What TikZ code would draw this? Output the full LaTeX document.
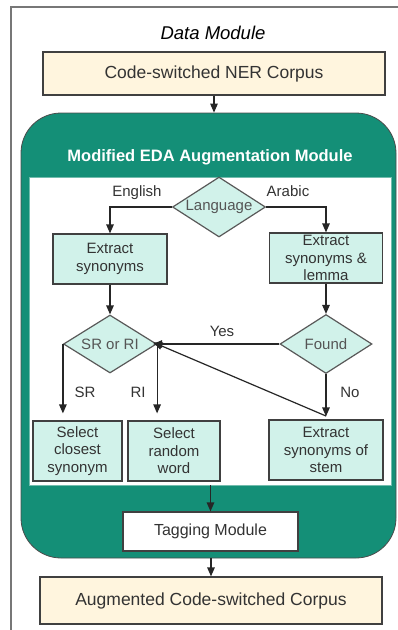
\documentclass[tikz,border=0pt]{standalone}
\usepackage{fontspec}
\setmainfont{Liberation Sans}
\usetikzlibrary{shapes.geometric,arrows.meta}
\definecolor{teal}{HTML}{148F77}
\definecolor{mint}{HTML}{D1F2EA}
\definecolor{cream}{HTML}{FFF5DE}
\definecolor{framegray}{HTML}{777777}
\definecolor{txt}{HTML}{333333}
\definecolor{dtxt}{HTML}{555555}
\tikzset{
  box/.style={draw=black!75, line width=1.2pt, rectangle, inner sep=0pt, align=center, text=txt,
    font=\fontsize{15}{17.5}\selectfont},
  mintbox/.style={box, fill=mint},
  creambox/.style={box, fill=cream, font=\fontsize{17.5}{20}\selectfont},
  decision/.style={diamond, draw=black!65, line width=1.2pt, fill=mint, inner sep=0pt},
  dtext/.style={text=dtxt, font=\fontsize{15}{17.5}\selectfont},
  arr/.style={-{Triangle[length=9pt,width=7.5pt]}, line width=1.2pt, black!85},
  lbl/.style={text=txt, font=\fontsize{15}{17.5}\selectfont},
}
\begin{document}
\begin{tikzpicture}[x=1pt,y=-1pt]
\useasboundingbox (0,0) rectangle (398,630);
% outer frame (cropped)
\draw[framegray, line width=1.3pt] (11,631) -- (11,7) -- (399,7);
\node (dm) at (213,33) {\fontsize{18.5}{20}\selectfont\itshape Data Module};
\node[creambox, minimum width=342pt, minimum height=43pt] (ner) at (214,73.5) {Code-switched NER Corpus};
% green module
\node[draw=black!70, line width=0.8pt, fill=teal, rounded corners=40pt, minimum width=375pt, minimum height=445pt] (green) at (208.5,335.5) {};
\node[text=white, font=\fontsize{16.5}{18}\selectfont\bfseries] (title) at (210,157) {Modified EDA Augmentation Module};
\node[fill=white, draw=teal!60!white, line width=0.8pt, minimum width=362pt, minimum height=308pt, inner sep=0pt] (inner) at (210,331) {};
% flowchart
\node[decision, minimum width=93pt, minimum height=60pt, label={[dtext]center:Language}] (lang) at (219,207) {};
\node[mintbox, minimum width=114pt, minimum height=50pt] (exs) at (110,259) {Extract\\synonyms};
\node[mintbox, minimum width=113pt, minimum height=50pt] (exl) at (326,258) {Extract\\synonyms \&\\lemma};
\node[decision, minimum width=93pt, minimum height=58pt, label={[dtext]center:SR or RI}] (srri) at (110,344) {};
\node[decision, minimum width=92pt, minimum height=59pt, label={[dtext]center:Found}] (found) at (326,344) {};
\node[mintbox, minimum width=89pt, minimum height=60pt] (scs) at (77.5,451) {Select\\closest\\synonym};
\node[mintbox, minimum width=92pt, minimum height=60pt] (srw) at (174,451) {Select\\random\\word};
\node[mintbox, minimum width=114pt, minimum height=60pt] (ess) at (326,450) {Extract\\synonyms of\\stem};
\node[box, fill=white, minimum width=175pt, minimum height=39pt, font=\fontsize{16}{18}\selectfont] (tag) at (210.5,531.5) {Tagging Module};
\node[creambox, minimum width=342pt, minimum height=47pt] (aug) at (211,600.5) {Augmented Code-switched Corpus};
% labels
\node[lbl] (len) at (137,193) {English};
\node[lbl] (lar) at (288,191) {Arabic};
\node[lbl] (lyes) at (222,331) {Yes};
\node[lbl] (lsr) at (85,392) {SR};
\node[lbl] (lri) at (138,392) {RI};
\node[lbl] (lno) at (350,392) {No};
\coordinate (nb) at (326,416);
% connectors
\draw[arr] (ner.south) -- (ner.south |- green.north);
\draw[arr] (lang.west) -| (exs.north);
\draw[arr] (lang.east) -| (exl.north);
\draw[arr] (exs.south) -- (srri.north);
\draw[arr] (exl.south) -- (found.north);
\draw[arr, shorten >=-4pt] (found.west) -- (srri.east);
\draw[arr, shorten >=7pt] (srri.west) -- (srri.west |- scs.north);
\draw[arr, shorten >=7pt] (srri.east) -- (srri.east |- srw.north);
\draw[arr, shorten >=3pt] (found.south) -- (ess.north);
\draw[arr, shorten >=-4pt] (nb) -- (srri.east);
\draw[arr] (inner.south -| tag.north) -- (tag.north);
\draw[arr] (green.south -| aug.north) -- (aug.north);
\end{tikzpicture}
\end{document}
